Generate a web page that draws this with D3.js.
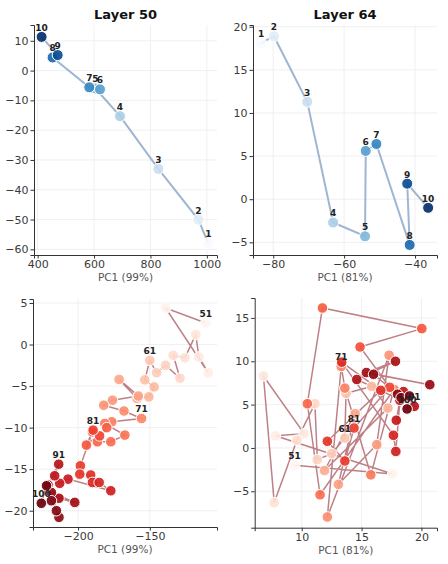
<!DOCTYPE html>
<html>
<head>
<meta charset="utf-8">
<script src="https://cdn.jsdelivr.net/npm/d3@7"></script>
<style>
  body { margin: 0; background: #fff; }
  text { font-family: "DejaVu Sans", sans-serif; }
</style>
</head>
<body>
<div id="chart"></div>
<script>
// Layer 50, points 1..10
const l50Labels = [1, 2, 3, 4, 5, 6, 7, 8, 9, 10];
const l50X = [1005, 970, 828, 692, 605, 621, 583, 453, 471, 414];
const l50Y = [-58, -50, -33, -15.3, -6, -6.3, -5.6, 4.4, 5.2, 11.3];

// Layer 64, points 1..10
const l64X = [-83.4, -79.8, -70.4, -63.1, -54.1, -53.9, -50.9, -41.5, -42.2, -36.3];
const l64Y = [18.1, 18.9, 11.3, -2.7, -4.3, 5.6, 6.4, -5.3, 1.8, -1.0];

// points 51..100
const rangeLabels = d3.range(51, 101);
const r50X = [-111, -139, -109.3, -115.8, -118, -125.6, -133.7, -129, -139, -145.3,
              -150, -153.5, -147, -150.7, -158.8, -171.4, -158, -176, -182.1, -168,
              -155.8, -176.5, -181.4, -167.4, -177.2, -186.5, -180, -194.2, -190, -185,
              -189.5, -198.4, -198.8, -191.2, -190, -185.3, -177.2, -207, -212.8, -216.3,
              -213.5, -220.9, -213.3, -202.3, -218.6, -213.3, -215.1, -218.6, -222, -225.6];
const r50Y = [2.6, 4.4, -3.4, -1.5, 1.2, -1.6, -1.3, -4.05, -2.5, -3.4,
              -1.9, -4.25, -5.1, -6.3, -6.5, -4.2, -6.2, -6.7, -7.3, -8,
              -8.9, -9.3, -9.5, -10.9, -11.7, -11.7, -10, -12.1, -10.5, -11,
              -10.3, -14.6, -15.6, -15.7, -16.6, -16.6, -17.6, -16.2, -16.7, -15.8,
              -14.4, -16.9, -18.5, -19.0, -17.8, -20.8, -20.0, -18.8, -17, -19.1];

const r64X = [9.4, 17.6, 7.8, 10.2, 6.8, 7.7, 9.6, 11.1, 11.3, 12.5,
              13.6, 13.7, 15.85, 17.2, 11.9, 14.46, 13.06, 16.27, 17.3, 12.14,
              13.3, 13.6, 15.77, 17.7, 11.53, 10.47, 11.73, 20.03, 14.87, 17.35,
              14.37, 13.6, 12.14, 16.6, 13.34, 17.66, 17.86, 18.2, 17.9, 18.5,
              19.4, 14.6, 17.83, 15.4, 20.7, 16.0, 18.0, 18.3, 19.0, 18.8];
const r64Y = [-2.0, -3.0, 1.4, 1.65, 8.3, -6.3, 0.9, 5.1, -1.35, -0.65,
              1.15, 6.3, 7.1, 4.6, -2.6, 3.96, -4.2, 0.38, 10.7, -7.96,
              9.4, 6.9, -3.1, 6.75, -5.4, 5.1, 16.15, 13.77, 11.65, 7.0,
              2.3, -1.5, 0.77, 6.65, 9.9, 1.46, -0.4, 5.5, 3.2, 6.5,
              4.8, 7.9, 10.0, 8.7, 7.3, 8.5, 6.2, 5.8, 6.0, 4.5];

const svg = d3.select("#chart").append("svg")
  .attr("width", 448)
  .attr("height", 564);

function panel(opts) {
  const x = d3.scaleLinear().domain(opts.xDomain).range([opts.left, opts.right]);
  const y = d3.scaleLinear().domain(opts.yDomain).range([opts.bottom, opts.top]);
  const g = svg.append("g");
  const n = opts.xs.length;
  const pts = opts.xs.map((v, i) => ({ x: v, y: opts.ys[i], label: opts.labels[i], t: i / (n - 1) }));

  // grid
  g.append("g").selectAll("line").data(opts.xTicks).join("line")
    .attr("x1", d => x(d)).attr("x2", d => x(d))
    .attr("y1", opts.top).attr("y2", opts.bottom)
    .attr("stroke", "#ececec").attr("stroke-width", 0.8);
  g.append("g").selectAll("line").data(opts.yTicks).join("line")
    .attr("y1", d => y(d)).attr("y2", d => y(d))
    .attr("x1", opts.left).attr("x2", opts.right)
    .attr("stroke", "#ececec").attr("stroke-width", 0.8);

  // axes
  const fmt = d => String(d).replace("-", "\u2212");
  const xAxis = g.append("g")
    .attr("transform", `translate(0,${opts.bottom})`)
    .call(d3.axisBottom(x).tickValues(opts.xTicks).tickSize(3.5).tickPadding(2).tickFormat(fmt));
  const yAxis = g.append("g")
    .attr("transform", `translate(${opts.left},0)`)
    .call(d3.axisLeft(y).tickValues(opts.yTicks).tickSize(3.5).tickPadding(2).tickFormat(fmt));
  [xAxis, yAxis].forEach(a => {
    a.select(".domain").attr("stroke", "#333").attr("stroke-width", 1);
    a.selectAll(".tick line").attr("stroke", "#333");
    a.selectAll(".tick text").attr("fill", "#3a3a3a").style("font-size", "11px");
  });

  // connecting path
  const line = d3.line().x(d => x(d.x)).y(d => y(d.y));
  g.append("path").datum(pts)
    .attr("d", line)
    .attr("fill", "none")
    .attr("stroke", opts.lineColor)
    .attr("stroke-opacity", opts.lineOpacity)
    .attr("stroke-width", opts.lineWidth);

  // points
  g.append("g").selectAll("circle").data(pts).join("circle")
    .attr("cx", d => x(d.x)).attr("cy", d => y(d.y))
    .attr("r", opts.r)
    .attr("fill", d => opts.cmap(d.t))
    .attr("fill-opacity", 0.92)
    .attr("stroke", "#fff").attr("stroke-width", 1);

  // point labels
  g.append("g").selectAll("text").data(pts.filter(d => opts.showLabel(d.label))).join("text")
    .attr("x", d => x(d.x)).attr("y", d => y(d.y) - 6)
    .attr("text-anchor", "middle")
    .attr("font-weight", "bold")
    .attr("font-size", "9px")
    .attr("fill", "#222")
    .text(d => d.label);

  if (opts.title) {
    svg.append("text")
      .attr("x", (opts.left + opts.right) / 2).attr("y", 19)
      .attr("text-anchor", "middle")
      .attr("font-weight", "bold").attr("font-size", "13px")
      .attr("fill", "#111")
      .text(opts.title);
  }
  svg.append("text")
    .attr("x", (opts.left + opts.right) / 2).attr("y", opts.bottom + 26)
    .attr("text-anchor", "middle")
    .attr("font-size", "10.5px").attr("fill", "#555")
    .text(opts.xLabel);
}

panel({
  xs: l50X, ys: l50Y, labels: l50Labels,
  left: 34, right: 217, top: 25, bottom: 255,
  xDomain: [387, 1036], yDomain: [-61.9, 15.3],
  xTicks: [400, 600, 800, 1000], yTicks: [-60, -50, -40, -30, -20, -10, 0, 10],
  cmap: d3.interpolateBlues, lineColor: "#7f9ec4", lineOpacity: 0.75, lineWidth: 2,
  r: 5.5, showLabel: () => true, title: "Layer 50", xLabel: "PC1 (99%)"
});

panel({
  xs: l64X, ys: l64Y, labels: l50Labels,
  left: 253, right: 437, top: 25, bottom: 255,
  xDomain: [-85.7, -33.8], yDomain: [-6.47, 20.2],
  xTicks: [-80, -60, -40], yTicks: [-5, 0, 5, 10, 15, 20],
  cmap: d3.interpolateBlues, lineColor: "#7f9ec4", lineOpacity: 0.75, lineWidth: 2,
  r: 5.5, showLabel: () => true, title: "Layer 64", xLabel: "PC1 (81%)"
});

const milestones = [51, 61, 71, 81, 91, 100];

panel({
  xs: r50X, ys: r50Y, labels: rangeLabels,
  left: 33, right: 217, top: 299, bottom: 527,
  xDomain: [-231.4, -103.2], yDomain: [-21.96, 5.48],
  xTicks: [-200, -150], yTicks: [-20, -15, -10, -5, 0, 5],
  cmap: d3.interpolateReds, lineColor: "#a34a52", lineOpacity: 0.7, lineWidth: 1.5,
  r: 5.3, showLabel: d => milestones.includes(d), xLabel: "PC1 (99%)"
});

panel({
  xs: r64X, ys: r64Y, labels: rangeLabels,
  left: 254.7, right: 437, top: 298, bottom: 527.7,
  xDomain: [6.07, 21.3], yDomain: [-9.2, 17.3],
  xTicks: [10, 15, 20], yTicks: [-5, 0, 5, 10, 15],
  cmap: d3.interpolateReds, lineColor: "#a34a52", lineOpacity: 0.7, lineWidth: 1.5,
  r: 5.3, showLabel: d => milestones.includes(d), xLabel: "PC1 (81%)"
});
</script>
</body>
</html>
